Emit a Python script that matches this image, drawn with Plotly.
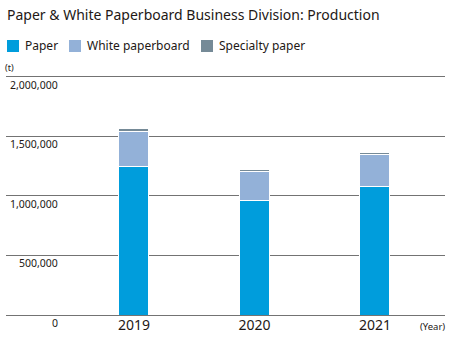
import plotly.graph_objects as go

years = ["2019", "2020", "2021"]
series_names = ["Paper", "White paperboard", "Specialty paper"]
paper = [1250000, 965000, 1077000]
white_paperboard = [288000, 238000, 266000]
specialty_paper = [23000, 14000, 17000]
series_values = [paper, white_paperboard, specialty_paper]
colors = ["#009DDC", "#93B1D8", "#758A97"]
y_ticks = [0, 500000, 1000000, 1500000, 2000000]
y_tick_labels = ["0", "500,000", "1,000,000", "1,500,000", "2,000,000"]

FONT = "Noto Sans"
W, H = 458, 340
ML, MR, MT, MB = 6, 13, 70, 25
PW = W - ML - MR
PH = H - MT - MB

fig = go.Figure()
for name, vals, col in zip(series_names, series_values, colors):
    fig.add_trace(go.Bar(
        x=years, y=vals, name=name, width=0.249,
        marker=dict(color=col, line=dict(color="white", width=1)),
        showlegend=False,
    ))

fig.update_layout(
    width=W, height=H,
    margin=dict(l=ML, r=MR, t=MT, b=MB, pad=0),
    barmode="stack",
    plot_bgcolor="white", paper_bgcolor="white",
    font=dict(family=FONT, color="#231815"),
    title=dict(text="Paper & White Paperboard Business Division: Production",
               xref="container", yref="container", x=7 / W, xanchor="left",
               y=1 - 15 / H, yanchor="middle",
               font=dict(size=14, family=FONT, color="#231815")),
    xaxis=dict(type="category", range=[-1.062, 2.581], showgrid=False,
               showline=False, ticks="", tickfont=dict(size=14, color="#231815")),
    yaxis=dict(range=[0, 2056000], tickvals=y_ticks, showticklabels=False,
               showgrid=True, gridcolor="#737373", gridwidth=1,
               zeroline=True, zerolinecolor="#737373", zerolinewidth=1,
               showline=False, ticks=""),
)

# y tick labels below the grid lines
for v, lab in zip(y_ticks, y_tick_labels):
    fig.add_annotation(x=(60 - ML) / PW, xref="paper", y=v, yref="y",
                       text=lab, showarrow=False, xanchor="right", yanchor="middle",
                       yshift=-8, font=dict(size=10.5, color="#231815"))

# unit labels
fig.add_annotation(x=(3 - ML) / PW, xref="paper", y=1 + (MT - 67) / PH, yref="paper",
                   text="(t)", showarrow=False, xanchor="left", yanchor="middle",
                   font=dict(size=9, color="#231815"))
fig.add_annotation(x=(447 - ML) / PW, xref="paper", y=-(326 - (H - MB)) / PH, yref="paper",
                   text="(Year)", showarrow=False, xanchor="right", yanchor="middle",
                   font=dict(size=9.5, color="#231815"))

# manual legend
leg_x = [7, 69, 201]
leg_y = 46
for name, col, lx in zip(series_names, colors, leg_x):
    x0 = (lx - ML) / PW
    x1 = (lx + 12 - ML) / PW
    y0 = 1 + (MT - (leg_y + 6)) / PH
    y1 = 1 + (MT - (leg_y - 6)) / PH
    fig.add_shape(type="rect", xref="paper", yref="paper", x0=x0, x1=x1, y0=y0, y1=y1,
                  fillcolor=col, line=dict(width=0))
    fig.add_annotation(x=(lx + 16 - ML) / PW, xref="paper", y=1 + (MT - leg_y) / PH, yref="paper",
                       text=name, showarrow=False, xanchor="left", yanchor="middle",
                       font=dict(size=12, color="#231815"))

fig.write_html("out.html")
